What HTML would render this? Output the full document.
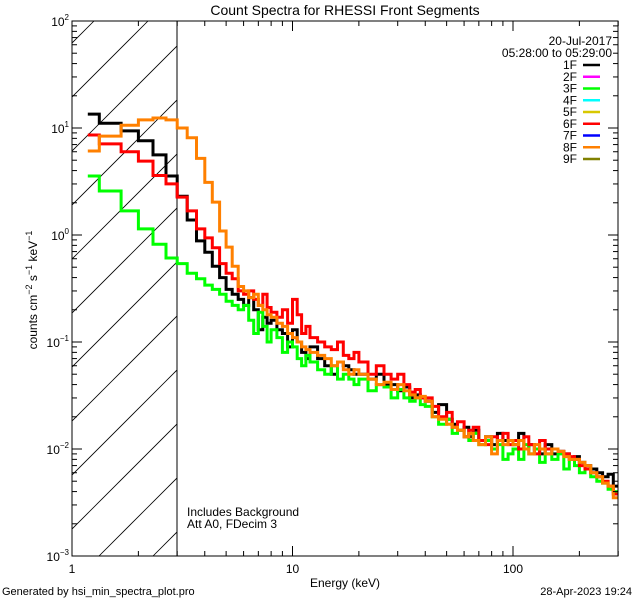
<!DOCTYPE html>
<html><head><meta charset="utf-8"><style>
body{margin:0;background:#fff;}
svg{display:block;font-family:"Liberation Sans",sans-serif;}
</style></head><body>
<svg id="c" width="640" height="600" viewBox="0 0 640 600">
<rect width="640" height="600" fill="#fff"/>
<defs><clipPath id="hc"><rect x="72" y="21" width="105" height="535"/></clipPath>
<clipPath id="pc"><rect x="72" y="21" width="546" height="535"/></clipPath></defs>
<text x="345" y="15" text-anchor="middle" font-size="14">Count Spectra for RHESSI Front Segments</text>
<g id="hatch" clip-path="url(#hc)"></g>
<line x1="177" y1="21" x2="177" y2="556" stroke="#000" stroke-width="1"/>
<g id="series" clip-path="url(#pc)"></g>
<rect x="72" y="21" width="546" height="535" fill="none" stroke="#000" stroke-width="1"/>
<g id="axes"></g>
<text x="345" y="587" text-anchor="middle" font-size="12">Energy (keV)</text>
<text transform="translate(37,290) rotate(-90)" text-anchor="middle" font-size="12">counts cm<tspan font-size="9" dy="-5">−2</tspan><tspan dy="5"> s</tspan><tspan font-size="9" dy="-5">−1</tspan><tspan dy="5"> keV</tspan><tspan font-size="9" dy="-5">−1</tspan></text>
<text x="2" y="595" font-size="11">Generated by hsi_min_spectra_plot.pro</text>
<text x="632" y="595" text-anchor="end" font-size="11">28-Apr-2023 19:24</text>
<text x="187" y="516" font-size="12">Includes Background</text>
<text x="187" y="528" font-size="12">Att A0, FDecim 3</text>
<text x="612" y="45" text-anchor="end" font-size="12">20-Jul-2017</text>
<text x="612" y="57" text-anchor="end" font-size="12">05:28:00 to 05:29:00</text>
<g id="legend"></g>
</svg>
<script>
const edges=[1.18,1.33,1.67,2,2.33,2.67,3,3.33,3.67,4,4.33,4.67,5,5.33,5.67,6,6.33,6.67,7,7.33,7.67,8,8.5,9,9.5,10,10.5,11,11.5,12,13,14,15,16,17,18,19,20,22,24,26,28,30,32,34,36,38,40,43,46,50,53,56,60,63,66,70,75,80,85,90,95,100,106,112,118,125,132,140,150,160,170,180,190,200,212,225,240,255,270,285,300];
const s1F=[13.5,11.1,9.4,7.6,5.6,3.56, 2.3,1.38,0.88,0.69,0.51,0.40,0.31,0.28,0.25, 0.22,0.26,0.20,0.13,0.17,0.15,0.16, 0.13,0.12,0.09,0.13,0.10,0.08,0.07,0.09, 0.07,0.06,0.05,0.065,0.06,0.055,0.05,0.05, 0.045,0.05,0.04,0.04,0.035,0.038,0.03,0.032,0.03,0.028, 0.022,0.026,0.019,0.017,0.015,0.016,0.013,0.015,0.012,0.013,0.011,0.014,0.012,0.012, 0.011,0.014,0.01,0.011,0.01,0.009,0.011,0.009,0.0095,0.009,0.008,0.0085,0.0075,0.007,0.0065,0.006,0.0055,0.0058,0.0045];
const s3F=[3.56,2.58,1.68,1.14,0.82,0.61, 0.54,0.44,0.39,0.34,0.31,0.28,0.24,0.22,0.2, 0.22,0.16,0.12,0.19,0.14,0.1,0.13, 0.11,0.08,0.1,0.09,0.07,0.06,0.075,0.065, 0.055,0.05,0.06,0.045,0.05,0.045,0.04,0.045, 0.035,0.04,0.038,0.03,0.036,0.03,0.028,0.03,0.026,0.025, 0.02,0.017,0.019,0.014,0.015,0.013,0.012,0.014,0.011,0.012,0.01,0.011,0.008,0.009, 0.01,0.008,0.011,0.009,0.01,0.0075,0.009,0.008,0.009,0.0065,0.008,0.007,0.006,0.0065,0.0055,0.005,0.0048,0.0042,0.004];
const s6F=[8.6,7.1,6.0,4.9,3.6,3.0, 2.26,1.68,1.14,0.94,0.76,0.54,0.44,0.39,0.3, 0.28,0.3,0.25,0.22,0.28,0.21,0.19, 0.17,0.2,0.15,0.25,0.18,0.12,0.14,0.11, 0.1,0.09,0.085,0.1,0.075,0.07,0.08,0.065, 0.05,0.06,0.05,0.045,0.05,0.04,0.034,0.036,0.03,0.03, 0.025,0.02,0.022,0.016,0.018,0.013,0.015,0.016,0.012,0.011,0.013,0.012,0.014,0.011, 0.012,0.01,0.013,0.011,0.009,0.012,0.01,0.01,0.0095,0.009,0.0085,0.008,0.007,0.0065,0.006,0.0055,0.005,0.0045,0.0038];
const s8F=[6.1,8.4,10.6,11.9,12.4,11.9, 10.0,8.1,5.2,3.1,2.03,1.09,0.77,0.51,0.33, 0.3,0.26,0.28,0.22,0.2,0.18,0.17, 0.15,0.14,0.12,0.11,0.1,0.09,0.085,0.08, 0.075,0.07,0.06,0.065,0.055,0.05,0.055,0.05, 0.045,0.04,0.042,0.036,0.04,0.035,0.032,0.03,0.031,0.028, 0.02,0.019,0.017,0.016,0.015,0.013,0.014,0.012,0.011,0.013,0.009,0.012,0.011,0.012, 0.011,0.012,0.01,0.009,0.011,0.01,0.009,0.01,0.0095,0.0085,0.008,0.008,0.0075,0.007,0.006,0.0055,0.0048,0.0045,0.0035];
const legendLabels=["1F","2F","3F","4F","5F","6F","7F","8F","9F"];
const legendColors=["#000","#ff00ff","#00ff00","#00ffff","#d8c800","#ff0000","#0000ff","#ff8000","#808000"];
const xTickLabels=["1","10","100"];
const yTickExps=[-3,-2,-1,0,1,2];

const NS="http://www.w3.org/2000/svg";
const X0=72,X1=618,Y0=21,Y1=556;
const xmin=1,dec=220.5;
function xs(e){return X0+Math.log10(e/xmin)*dec;}
function ys(v){return Y1-(Math.log10(v)+3)*107;}
function mk(t,a,p){const e=document.createElementNS(NS,t);for(const k in a)e.setAttribute(k,a[k]);(p||document.getElementById('c')).appendChild(e);return e;}

// hatch
const hg=document.getElementById('hatch');
for(let k=-12;k<4;k++){const bx=99+k*54;
 const l=mk('line',{x1:bx,y1:Y1,x2:bx+535,y2:Y1-535,stroke:'#000','stroke-width':0.8},hg);
 
 }

// series
const sg=document.getElementById('series');
const series=[[s1F,"#000","series-1f"],[s3F,"#00ff00","series-3f"],[s6F,"#ff0000","series-6f"],[s8F,"#ff8000","series-8f"]];
series.forEach(([vals,col,name])=>{
 let d="";
 for(let i=0;i<vals.length;i++){const x0=xs(edges[i]),x1=xs(edges[i+1]),y=ys(vals[i]);
  d+=(i==0?"M":"L")+x0.toFixed(1)+","+y.toFixed(1)+"L"+x1.toFixed(1)+","+y.toFixed(1);}
 const p=mk('path',{d:d,fill:'none',stroke:col,'stroke-width':3,'stroke-linejoin':'miter'},sg);
 
 
});

// axes
const ag=document.getElementById('axes');
for(let d=0;d<3;d++){for(let m=1;m<10;m++){const e=Math.pow(10,d)*m;const x=xs(e);if(x>X1+0.5)continue;
 const L=m==1?10:5;
 const t1=mk('line',{x1:x,y1:Y1,x2:x,y2:Y1-L,stroke:'#000'},ag);
 
 
 const t2=mk('line',{x1:x,y1:Y0,x2:x,y2:Y0+L,stroke:'#000'},ag);
 
 
 if(m==1){const tx=mk('text',{x:x,y:Y1+17,'text-anchor':'middle','font-size':12},ag);tx.textContent=xTickLabels[d];
  
  }
}}
yTickExps.forEach((ex,i)=>{
 const y=ys(Math.pow(10,ex));
 [X0,X1].forEach((bx,j)=>{const dir=j==0?1:-1;
  const t=mk('line',{x1:bx,y1:y,x2:bx+dir*10,y2:y,stroke:'#000'},ag);
  
  
  if(i<yTickExps.length-1){for(let m=2;m<10;m++){const yy=ys(m*Math.pow(10,ex));
   const mt=mk('line',{x1:bx,y1:yy,x2:bx+dir*5,y2:yy,stroke:'#000'},ag);
   
   }}
 });
 const tx=mk('text',{x:X0-3,y:y+5,'text-anchor':'end','font-size':12},ag);
 tx.innerHTML='10<tspan font-size="8" dy="-6">'+(ex<0?'−'+(-ex):ex)+'</tspan>';
 
 
});

// legend
const lg=document.getElementById('legend');
legendLabels.forEach((lab,i)=>{const y=65+i*11.75;
 const t=mk('text',{x:577,y:y+4,'text-anchor':'end','font-size':12},lg);t.textContent=lab;
 
 
 const l=mk('line',{x1:583,y1:y,x2:600,y2:y,stroke:legendColors[i],'stroke-width':2.5},lg);
 
 
});
</script>
</body></html>
